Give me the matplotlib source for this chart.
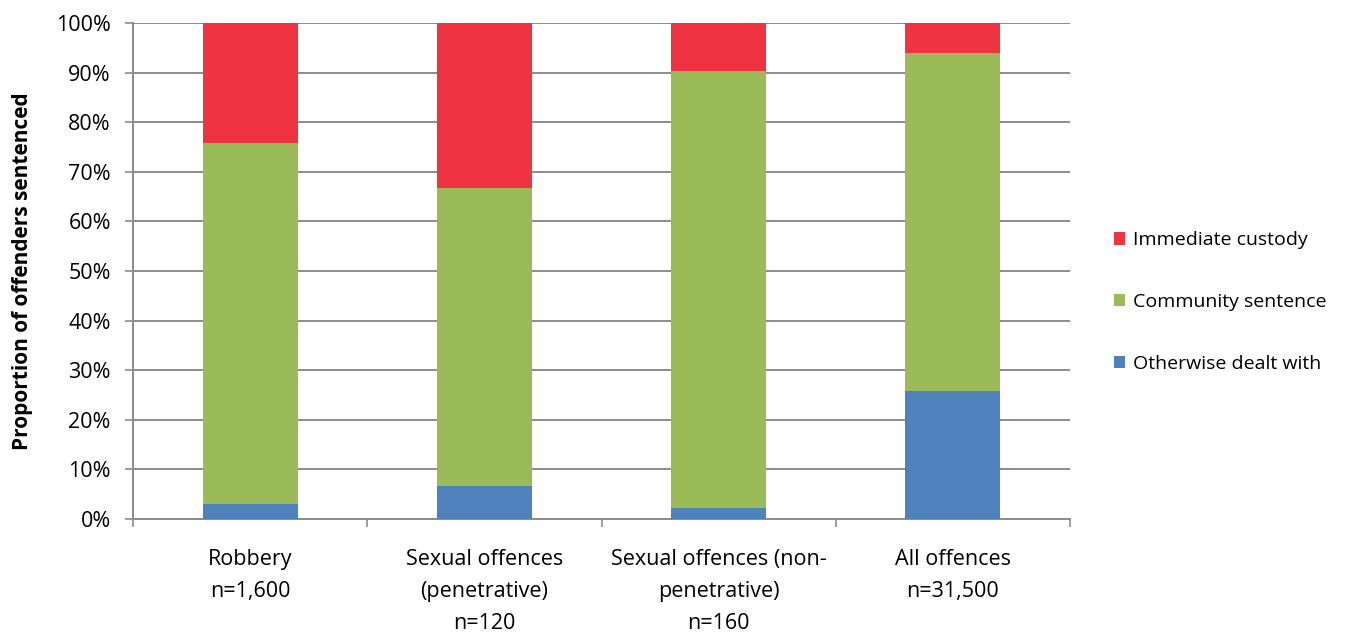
import matplotlib
matplotlib.use("Agg")
import matplotlib.pyplot as plt
import numpy as np
from matplotlib.patches import Patch

categories = ["Robbery\nn=1,600", "Sexual offences\n(penetrative)\nn=120",
              "Sexual offences (non-\npenetrative)\nn=160", "All offences\nn=31,500"]
otherwise = [3.0, 6.7, 2.2, 25.8]
community = [72.9, 60.1, 88.2, 68.1]
custody = [24.1, 33.2, 9.6, 6.1]
series_names = ["Otherwise dealt with", "Community sentence", "Immediate custody"]
colors = ["#4F81BD", "#9BBB59", "#EF3340"]
yticks = list(range(0, 101, 10))

plt.rcParams['font.family'] = ['Open Sans', 'DejaVu Sans']

fig = plt.figure(figsize=(13.47, 6.33), dpi=100)
ax = fig.add_axes([133/1347, 1-519/633, (1070-133)/1347, (519-23)/633])

x = np.arange(len(categories))
w = 0.405
bottom = np.zeros(len(categories))
handles = []
for vals, c, name in zip([otherwise, community, custody], colors, series_names):
    ax.bar(x, vals, w, bottom=bottom, color=c, zorder=3)
    bottom += np.array(vals)
    handles.append(Patch(facecolor=c, label=name))

ax.set_xlim(-0.5, len(categories) - 0.5)
ax.set_ylim(0, 100)
ax.set_yticks(yticks)
ax.set_yticklabels([f"{t}%" for t in yticks], fontsize=15.5)
ax.yaxis.grid(True, color="#8C8C8C", linewidth=1.4, zorder=0)
ax.set_axisbelow(True)

ax.set_xticks(np.arange(-0.5, len(categories) + 0.5, 1.0))
ax.set_xticklabels([])
ax.tick_params(axis='x', length=6, color="#8C8C8C", width=1.2, direction='out')
ax.tick_params(axis='y', length=6, color="#8C8C8C", width=1.2, direction='out', pad=10)
for i, lab in enumerate(categories):
    ax.text(i, -6.1, lab, ha='center', va='top', fontsize=15.5, linespacing=1.68,
            transform=ax.transData)

for s in ['top', 'right']:
    ax.spines[s].set_visible(False)
for s in ['left', 'bottom']:
    ax.spines[s].set_color("#8C8C8C")
    ax.spines[s].set_linewidth(1.4)

ax.set_ylabel("Proportion of offenders sentenced", fontsize=15, fontweight='bold')
ax.yaxis.set_label_coords(-100/937, 0.5)

leg = fig.legend(handles=handles[::-1], loc='center left', bbox_to_anchor=(1096/1347, 1-302/633),
                 frameon=False, fontsize=14, handlelength=0.6, handleheight=0.6,
                 handletextpad=0.4, labelspacing=2.25)

fig.savefig("out.png", dpi=100)
